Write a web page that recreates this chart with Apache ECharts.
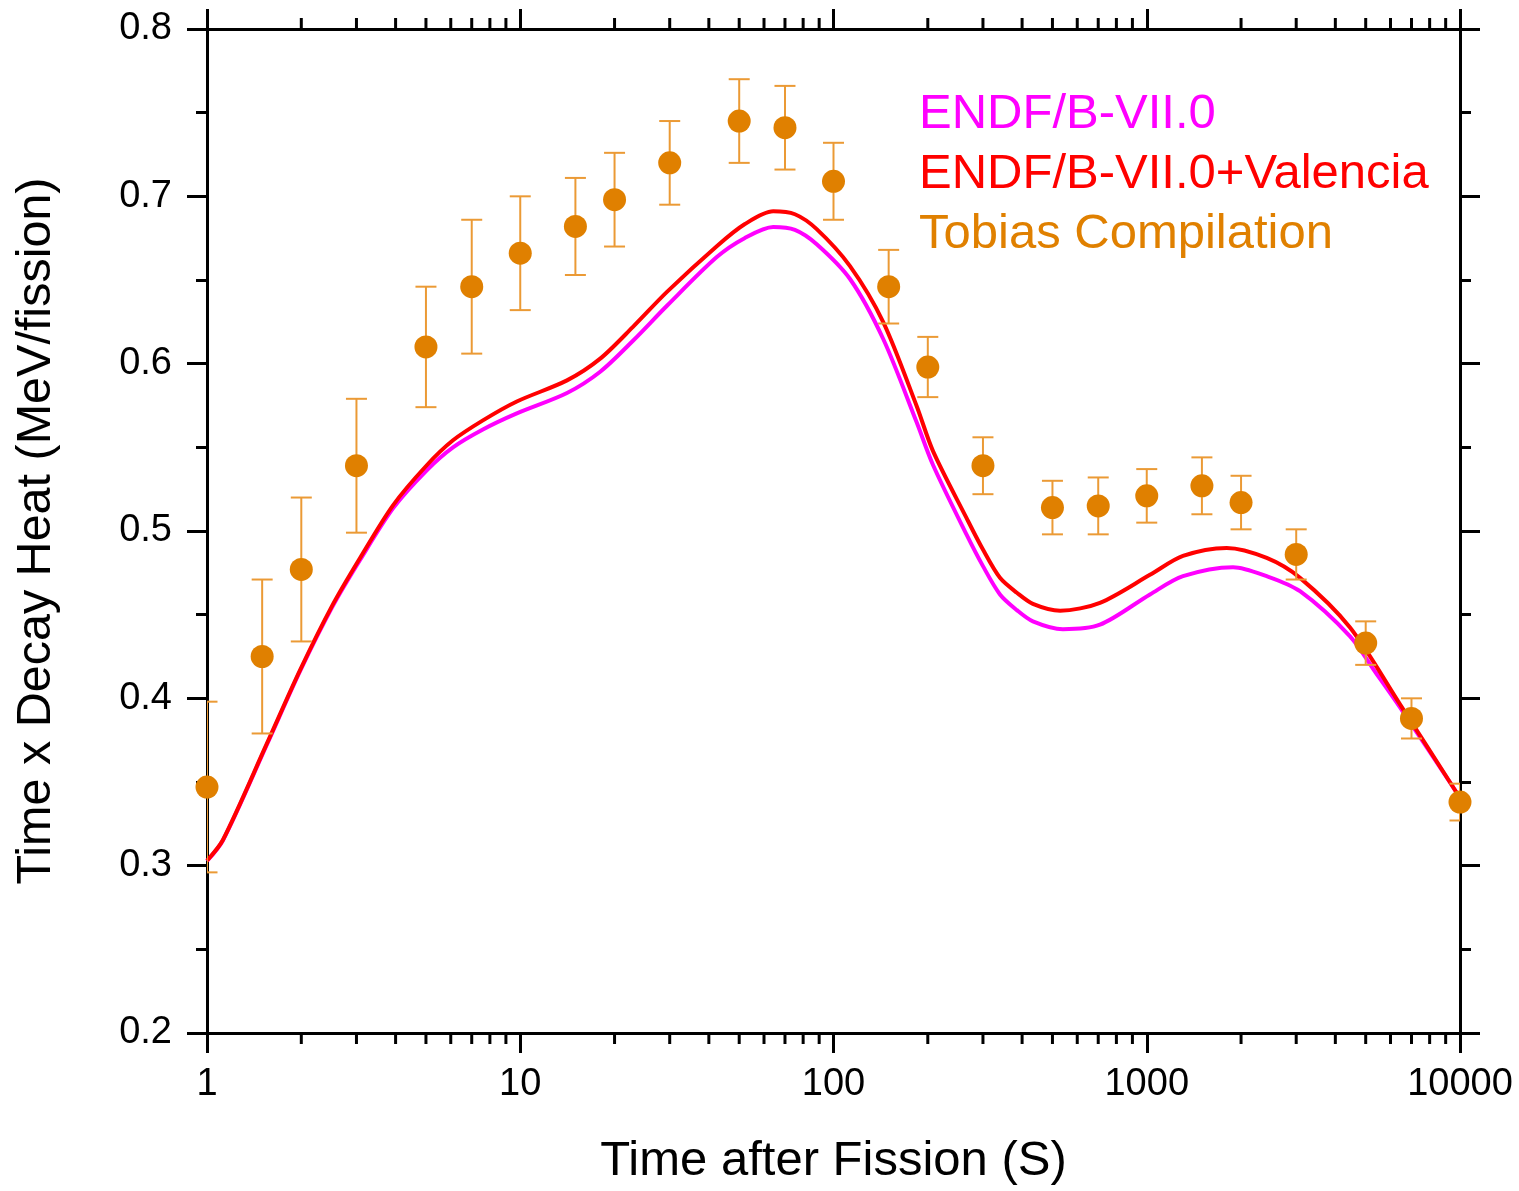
<!DOCTYPE html>
<html>
<head>
<meta charset="utf-8">
<script src="https://cdn.jsdelivr.net/npm/echarts@6/dist/echarts.min.js"></script>
<style>html,body{margin:0;padding:0;background:#fff;overflow:hidden;}#c{width:1519px;height:1191px;}</style>
</head>
<body>
<div id="c"></div>
<script>
// ---- data ----
const valT = [1, 1.125, 1.55, 1.98, 2.52, 3.08, 3.93, 5.03, 6.1, 7.6, 9.75, 14.1, 18, 22.9, 29.4, 42.4, 52, 64.2, 75.3, 88.4, 112.9, 144, 184, 208, 266, 300, 340, 385, 433, 529, 709, 1024, 1305, 1800, 2415, 3085, 4456, 6435, 9500, 10000];
const valV = [0.3030, 0.3155, 0.3726, 0.4167, 0.4560, 0.4839, 0.5155, 0.5393, 0.5542, 0.5661, 0.5774, 0.5900, 0.6030, 0.6220, 0.6429, 0.6702, 0.6833, 0.6911, 0.6893, 0.6804, 0.6583, 0.6250, 0.5750, 0.5476, 0.5077, 0.4889, 0.4720, 0.4631, 0.4565, 0.4524, 0.4571, 0.4738, 0.4851, 0.4899, 0.4839, 0.4720, 0.4423, 0.3964, 0.3470, 0.3405];
const endfT = [1, 1.125, 1.55, 1.98, 2.52, 3.08, 3.93, 5.03, 6.1, 7.6, 9.75, 14.1, 18, 22.9, 29.4, 42.4, 52, 64.2, 75.3, 88.4, 112.9, 144, 184, 208, 266, 300, 340, 385, 433, 540, 709, 1024, 1305, 1886, 2415, 3085, 4456, 5400, 6435, 9500, 10000];
const endfV = [0.3028, 0.3152, 0.3720, 0.4161, 0.4551, 0.4827, 0.5137, 0.5363, 0.5500, 0.5607, 0.5703, 0.5825, 0.5952, 0.6137, 0.6346, 0.6637, 0.6750, 0.6817, 0.6800, 0.6714, 0.6506, 0.6149, 0.5653, 0.5393, 0.4978, 0.4790, 0.4621, 0.4527, 0.4460, 0.4413, 0.4440, 0.4621, 0.4730, 0.4784, 0.4730, 0.4640, 0.4370, 0.4150, 0.3946, 0.3470, 0.3405];
const tobT = [1, 1.5, 2, 3, 5, 7, 10, 15, 20, 30, 50, 70, 100, 150, 200, 300, 500, 700, 1000, 1500, 2000, 3000, 5000, 7000, 10000];
const tobV = [0.347, 0.425, 0.477, 0.539, 0.610, 0.646, 0.666, 0.682, 0.698, 0.720, 0.745, 0.741, 0.709, 0.646, 0.598, 0.539, 0.514, 0.515, 0.521, 0.527, 0.517, 0.486, 0.433, 0.388, 0.338];
const tobErr = [0.051, 0.046, 0.043, 0.040, 0.036, 0.040, 0.034, 0.029, 0.028, 0.025, 0.025, 0.025, 0.023, 0.022, 0.018, 0.017, 0.016, 0.017, 0.016, 0.017, 0.016, 0.015, 0.013, 0.012, 0.011];
const xMinorTicks = [2, 3, 4, 5, 6, 7, 8, 9, 20, 30, 40, 50, 60, 70, 80, 90, 200, 300, 400, 500, 600, 700, 800, 900, 2000, 3000, 4000, 5000, 6000, 7000, 8000, 9000];
const yTickLabels = ['0.2', '0.3', '0.4', '0.5', '0.6', '0.7', '0.8'];
const xTickLabels = ['1', '10', '100', '1000', '10000'];
const legendNames = ['ENDF/B-VII.0', 'ENDF/B-VII.0+Valencia', 'Tobias Compilation'];

const FONT = '"Liberation Sans", Arial, sans-serif';
const C_MAG = '#ff00ff', C_RED = '#ff0000', C_ORA = '#e08000';

const chart = echarts.init(document.getElementById('c'), null, {renderer: 'canvas'});
const zip = (a, b) => a.map((v, i) => [v, b[i]]);

const axisLine = {show: true, lineStyle: {color: '#000', width: 3}};
const xBase = {
  type: 'log', logBase: 10, min: 1, max: 10000,
  splitLine: {show: false},
  axisLine: axisLine,
  axisTick: {show: true, inside: false, length: 20, lineStyle: {color: '#000', width: 3}},
};
const yBase = {
  type: 'value', min: 0.2, max: 0.8, interval: 0.1,
  splitLine: {show: false},
  axisLine: axisLine,
  axisTick: {show: true, inside: false, length: 20, lineStyle: {color: '#000', width: 3}},
  minorTick: {show: true, splitNumber: 2, length: 11, lineStyle: {color: '#000', width: 3}},
};

function tickSeries(yVal, dir) {
  return {
    type: 'custom', xAxisIndex: 0, yAxisIndex: 0, clip: false, silent: true, z: 1,
    data: xMinorTicks.map(t => [t, yVal]),
    renderItem: function (params, api) {
      const p = api.coord([api.value(0), api.value(1)]);
      return {type: 'line', shape: {x1: p[0], y1: p[1], x2: p[0], y2: p[1] + dir * 11},
        style: {stroke: '#000', lineWidth: 3}};
    }
  };
}

const option = {
  backgroundColor: '#fff',
  animation: false,
  textStyle: {fontFamily: FONT},
  grid: {left: 207, width: 1253, top: 29, height: 1008, containLabel: false},
  legend: {
    show: true, orient: 'vertical', left: 909, top: 85, itemGap: 11,
    icon: 'none', itemWidth: 0, itemHeight: 10, selectedMode: false,
    textStyle: {fontSize: 49, fontFamily: FONT},
    data: [
      {name: legendNames[0], textStyle: {color: C_MAG}},
      {name: legendNames[1], textStyle: {color: C_RED}},
      {name: legendNames[2], textStyle: {color: C_ORA}}
    ]
  },
  xAxis: [
    Object.assign({}, xBase, {
      position: 'bottom',
      name: 'Time after Fission (S)', nameLocation: 'middle', nameGap: 104,
      nameTextStyle: {fontSize: 49, color: '#000', fontFamily: FONT},
      axisLabel: {show: true, fontSize: 38, color: '#000', margin: 33, fontFamily: FONT,
        formatter: v => xTickLabels[Math.round(Math.log10(v))] || ''}
    }),
    Object.assign({}, xBase, {position: 'top', axisLabel: {show: false}})
  ],
  yAxis: [
    Object.assign({}, yBase, {
      position: 'left',
      name: 'Time x Decay Heat (MeV/fission)', nameLocation: 'middle', nameGap: 146,
      nameTextStyle: {fontSize: 48.5, color: '#000', fontFamily: FONT},
      axisLabel: {show: true, fontSize: 38, color: '#000', margin: 35, fontFamily: FONT,
        formatter: v => yTickLabels[Math.round((v - 0.2) * 10)] || ''}
    }),
    Object.assign({}, yBase, {position: 'right', axisLabel: {show: false}})
  ],
  series: [
    {
      name: legendNames[0], type: 'line', smooth: 0.3, showSymbol: false, z: 3,
      data: zip(endfT, endfV), lineStyle: {color: C_MAG, width: 4}, itemStyle: {color: C_MAG}
    },
    {
      name: legendNames[1], type: 'line', smooth: 0.3, showSymbol: false, z: 4,
      data: zip(valT, valV), lineStyle: {color: C_RED, width: 4}, itemStyle: {color: C_RED}
    },
    {
      name: 'errorbars', type: 'custom', clip: true, z: 5, silent: true,
      data: tobT.map((t, i) => [t, tobV[i] - tobErr[i], tobV[i] + tobErr[i]]),
      renderItem: function (params, api) {
        const lo = api.coord([api.value(0), api.value(1)]);
        const hi = api.coord([api.value(0), api.value(2)]);
        const w = 10.5;
        const st = {stroke: '#eb9a35', lineWidth: 2};
        return {type: 'group', children: [
          {type: 'line', shape: {x1: lo[0], y1: lo[1], x2: hi[0], y2: hi[1]}, style: st},
          {type: 'line', shape: {x1: lo[0] - w, y1: lo[1], x2: lo[0] + w, y2: lo[1]}, style: st},
          {type: 'line', shape: {x1: hi[0] - w, y1: hi[1], x2: hi[0] + w, y2: hi[1]}, style: st}
        ]};
      }
    },
    {
      name: legendNames[2], type: 'scatter', symbol: 'circle', symbolSize: 23, z: 6, clip: true,
      data: zip(tobT, tobV), itemStyle: {color: C_ORA, opacity: 1}
    },
    tickSeries(0.2, 1),
    tickSeries(0.8, -1)
  ]
};
chart.setOption(option);
</script>
</body>
</html>
